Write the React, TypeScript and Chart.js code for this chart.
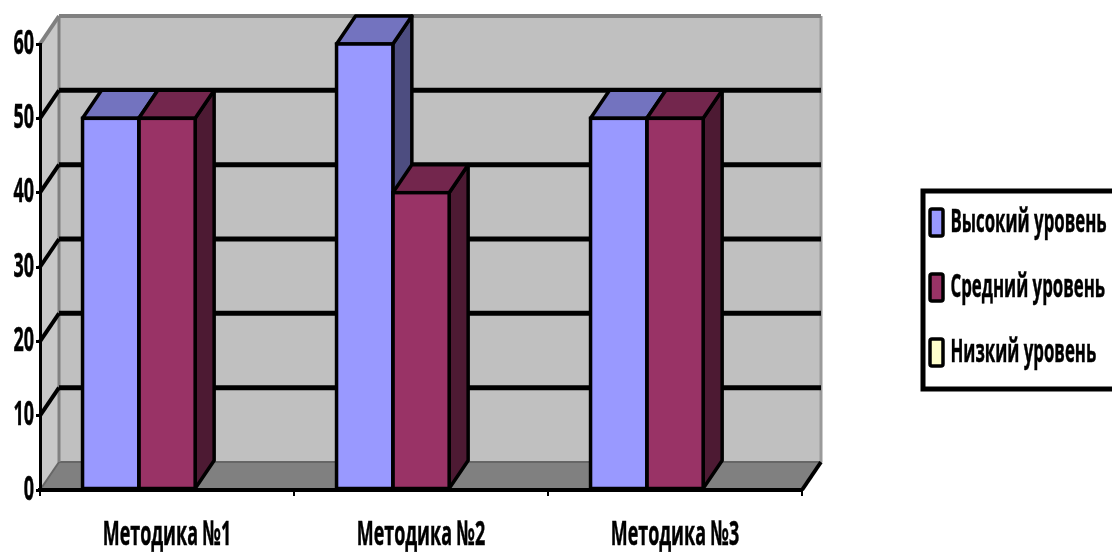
import React, { useEffect, useRef } from "react";
import { Chart, registerables } from "chart.js";

Chart.register(...registerables);

const categories = ["Методика №1", "Методика №2", "Методика №3"];
const seriesNames = ["Высокий уровень", "Средний уровень", "Низкий уровень"];
const highLevel = [50, 60, 50];
const midLevel = [50, 40, 50];
const lowLevel = [0, 0, 0];
const faceColors = ["#9999FF", "#993366", "#FFFFCC"];
const topColors = ["#7373BF", "#73264D", "#BFBF99"];
const sideColors = ["#4D4D80", "#4D1A33", "#808066"];
const yTicks = [0, 10, 20, 30, 40, 50, 60];

const DX = 19;
const DY = -28;
const FONT = "'Open Sans'";
const TEXT_SX = 1.12;
const TEXT_SY = 2.15;

const poly = (ctx: CanvasRenderingContext2D, pts: number[][], fill?: string, stroke?: string, lw = 3) => {
  ctx.beginPath();
  pts.forEach(([x, y], i) => (i ? ctx.lineTo(x, y) : ctx.moveTo(x, y)));
  ctx.closePath();
  if (fill) {
    ctx.fillStyle = fill;
    ctx.fill();
  }
  if (stroke) {
    ctx.strokeStyle = stroke;
    ctx.lineWidth = lw;
    ctx.lineJoin = "round";
    ctx.stroke();
  }
};

const seg = (ctx: CanvasRenderingContext2D, a: number[], b: number[], color: string, lw: number) => {
  ctx.beginPath();
  ctx.moveTo(a[0], a[1]);
  ctx.lineTo(b[0], b[1]);
  ctx.strokeStyle = color;
  ctx.lineWidth = lw;
  ctx.stroke();
};

const stretchText = {
  id: "stretchText",
  start(chart: any) {
    const ctx = chart.ctx;
    const orig = ctx.fillText.bind(ctx);
    ctx.fillText = (t: string, x: number, y: number) => {
      ctx.save();
      ctx.translate(x, y);
      ctx.scale(TEXT_SX, TEXT_SY);
      orig(t, 0, 0);
      ctx.strokeStyle = ctx.fillStyle;
      ctx.lineWidth = 0.25;
      ctx.strokeText(t, 0, 0);
      ctx.restore();
    };
  },
};

const placeLegend = {
  id: "placeLegend",
  beforeLayout(chart: any) {
    const l = chart.legend;
    if (l && !l.__patched) {
      l.__patched = true;
      const fit = l.fit.bind(l);
      l.fit = () => {
        fit();
        l.width = 310;
      };
    }
  },
  afterLayout(chart: any) {
    const l = chart.legend;
    l.left = 892;
    l.right = 1112;
    l.top = 171;
    l.bottom = 2000;
    l.width = 220;
    l.height = 1829;
  },
};

const scene3d = {
  id: "scene3d",
  beforeDraw(chart: any) {
    const { ctx, chartArea: a, scales } = chart;
    const y = scales.y;
    ctx.save();
    const L = a.left, R = a.right, T = a.top, B = a.bottom;
    // legend frame
    ctx.fillStyle = "#fff";
    ctx.fillRect(923, 191, 200, 198);
    ctx.strokeStyle = "#000";
    ctx.lineWidth = 5;
    ctx.strokeRect(923, 191, 200, 198);
    // walls and floor
    poly(ctx, [[L + DX, T + DY], [R + DX, T + DY], [R + DX, B + DY], [L + DX, B + DY]], "#C0C0C0");
    poly(ctx, [[L, T], [L + DX, T + DY], [L + DX, B + DY], [L, B]], "#C8C8C8");
    poly(ctx, [[L, B], [L + DX, B + DY], [R + DX, B + DY], [R, B]], "#808080");
    seg(ctx, [L + DX, B + DY], [R + DX, B + DY], "#666666", 2);
    seg(ctx, [L, B], [L + DX, B + DY], "#666666", 2);
    seg(ctx, [R + DX, T + DY], [R + DX, B + DY], "#9A9A9A", 3);
    seg(ctx, [L + DX, T + DY], [L + DX, B + DY], "#808080", 3);
    seg(ctx, [L, T], [L + DX, T + DY], "#808080", 4);
    seg(ctx, [L + DX, T + DY], [R + DX, T + DY], "#808080", 4);
    seg(ctx, [R, B], [R + DX, B + DY], "#000", 4);
    // gridlines on the back and side walls
    yTicks.slice(1, -1).forEach((v) => {
      const p = y.getPixelForValue(v);
      seg(ctx, [L + DX, p + DY], [R + DX, p + DY], "#000", 5);
      seg(ctx, [L, p], [L + DX, p + DY], "#000", 4);
    });
    ctx.restore();
  },
  beforeDatasetsDraw(chart: any) {
    const ctx = chart.ctx;
    ctx.save();
    chart.data.datasets.forEach((ds: any, di: number) => {
      chart.getDatasetMeta(di).data.forEach((b: any, i: number) => {
        if (!ds.data[i]) return;
        const hw = b.width / 2;
        const l = b.x - hw, r = b.x + hw, t = b.y, bt = b.base;
        poly(ctx, [[r, t], [r + DX, t + DY], [r + DX, bt + DY], [r, bt]], sideColors[di], "#000", 3.5);
        poly(ctx, [[l, t], [l + DX, t + DY], [r + DX, t + DY], [r, t]], topColors[di], "#000", 3.5);
      });
    });
    ctx.restore();
  },
  afterDatasetsDraw(chart: any) {
    const ctx = chart.ctx;
    ctx.save();
    chart.data.datasets.forEach((ds: any, di: number) => {
      chart.getDatasetMeta(di).data.forEach((b: any, i: number) => {
        if (!ds.data[i]) return;
        const hw = b.width / 2;
        ctx.strokeStyle = "#000";
        ctx.lineWidth = 3.5;
        ctx.strokeRect(b.x - hw, b.y, b.width, b.base - b.y);
      });
    });
    ctx.restore();
  },
};

export default function App() {
  const ref = useRef<HTMLCanvasElement>(null);
  useEffect(() => {
    const values = [highLevel, midLevel, lowLevel];
    const chart = new Chart(ref.current!, {
      type: "bar",
      data: {
        labels: categories,
        datasets: seriesNames.map((label, i) => ({
          label,
          data: values[i],
          backgroundColor: faceColors[i],
          borderWidth: 0,
          barPercentage: 1,
          categoryPercentage: 0.665,
        })),
      },
      plugins: [stretchText, placeLegend, scene3d],
      options: {
        responsive: false,
        animation: false,
        events: [],
        layout: { padding: { left: 0, top: 44, right: 0, bottom: 0 } },
        plugins: {
          tooltip: { enabled: false },
          title: { display: false },
          legend: {
            display: true,
            position: "right",
            align: "start",
            labels: {
              boxWidth: 13,
              boxHeight: 27,
              padding: 38,
              font: { family: FONT, size: 15, weight: "bold" },
              color: "#000",
              generateLabels: () =>
                seriesNames.map((text, i) => ({
                  text,
                  fillStyle: faceColors[i],
                  strokeStyle: "#000",
                  lineWidth: 3.5,
                  borderRadius: 2,
                  datasetIndex: i,
                })),
            },
          },
        },
        scales: {
          x: {
            afterFit: (s: any) => {
              s.height = 62;
            },
            border: { display: true, color: "#000", width: 4 },
            grid: { drawOnChartArea: false, drawTicks: true, tickLength: 6, color: "#000", lineWidth: 2 },
            ticks: { color: "#000", maxRotation: 0, padding: 30, font: { family: FONT, size: 16, weight: "bold" } },
          },
          y: {
            min: 0,
            max: 60,
            afterFit: (s: any) => {
              s.width = 40;
            },
            border: { display: true, color: "#000", width: 3 },
            grid: { drawOnChartArea: false, drawTicks: true, tickLength: 4, color: "#000", lineWidth: 3 },
            ticks: { color: "#000", stepSize: 10, padding: 2, font: { family: FONT, size: 16, weight: "bold" } },
          },
        },
      },
    } as any);
    return () => chart.destroy();
  }, []);
  return (
    <canvas
      ref={ref}
      width={1112}
      height={552}
      style={{ position: "absolute", left: 0, top: 0, display: "block" }}
    />
  );
}
